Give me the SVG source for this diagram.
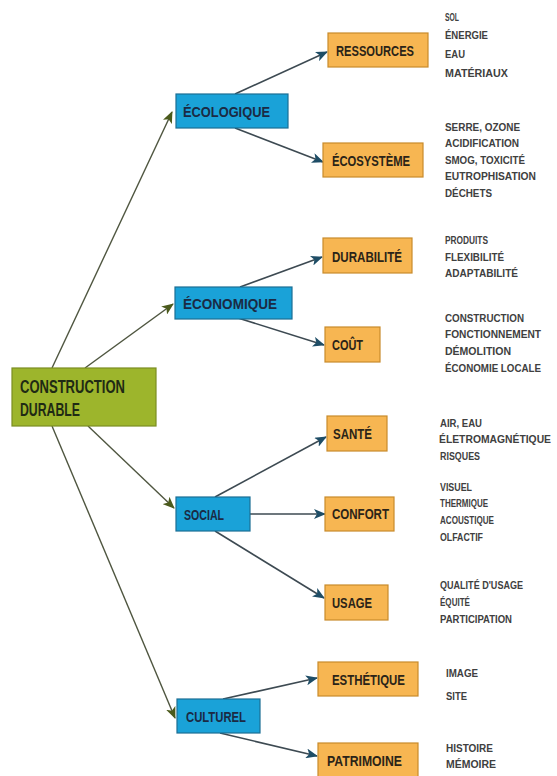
<svg xmlns="http://www.w3.org/2000/svg" width="557" height="776" viewBox="0 0 557 776">
<style>
.bg{fill:#ffffff}
.root{fill:#9db52c;stroke:#7b8e22;stroke-width:1.2}
.blue{fill:#1aa2d8;stroke:#1b6e94;stroke-width:1.2}
.orange{fill:#f7b652;stroke:#c88b2c;stroke-width:1.2}
.lbl{font-family:"Liberation Sans",Arial,sans-serif;font-weight:bold;font-size:15px}
.rootlbl{font-family:"Liberation Sans",Arial,sans-serif;font-weight:bold;font-size:18px;fill:#1f2a14}
.blbl{fill:#1b2a44}
.olbl{fill:#2b2418}
.list{font-family:"Liberation Sans",Arial,sans-serif;font-weight:bold;font-size:11px;fill:#404040}
.c1{stroke:#4f5640;stroke-width:1.4;fill:none;marker-end:url(#ah1)}
.c2{stroke:#3d4a52;stroke-width:1.6;fill:none;marker-end:url(#ah2)}
</style>
<defs>
<marker id="ah1" markerWidth="12" markerHeight="10" refX="11" refY="5" orient="auto" markerUnits="userSpaceOnUse">
<path d="M0,0 L12,5 L0,10 L3,5 Z" fill="#4b5a1c"/>
</marker>
<marker id="ah2" markerWidth="12" markerHeight="10" refX="11" refY="5" orient="auto" markerUnits="userSpaceOnUse">
<path d="M0,0 L12,5 L0,10 L3,5 Z" fill="#1e4d66"/>
</marker>
</defs>
<rect class="bg" x="0" y="0" width="557" height="776"/>
<g id="connectors">
<line class="c1" x1="52" y1="368" x2="172" y2="112"/>
<line class="c1" x1="85" y1="368" x2="173" y2="304"/>
<line class="c1" x1="88" y1="426" x2="174" y2="508"/>
<line class="c1" x1="52" y1="426" x2="175" y2="718"/>
<line class="c2" x1="235" y1="94" x2="327" y2="52"/>
<line class="c2" x1="235" y1="128" x2="323" y2="162"/>
<line class="c2" x1="240" y1="287" x2="322" y2="257"/>
<line class="c2" x1="238" y1="318" x2="324" y2="345"/>
<line class="c2" x1="215" y1="497" x2="326" y2="437"/>
<line class="c2" x1="250" y1="514" x2="325" y2="514"/>
<line class="c2" x1="215" y1="531" x2="324" y2="598"/>
<line class="c2" x1="223" y1="699" x2="317" y2="678"/>
<line class="c2" x1="220" y1="733" x2="317" y2="756"/>
</g>
<g id="construction">
<rect class="root" x="12" y="368" width="144" height="58"/>
<text class="rootlbl" x="20" y="393" textLength="105" lengthAdjust="spacingAndGlyphs">CONSTRUCTION</text>
<text class="rootlbl" x="20" y="416" textLength="60" lengthAdjust="spacingAndGlyphs">DURABLE</text>
</g>
<g id="ecologique">
<rect class="blue" x="176" y="94" width="112" height="34"/>
<text class="lbl blbl" x="183" y="117" textLength="87" lengthAdjust="spacingAndGlyphs">ÉCOLOGIQUE</text>
</g>
<g id="economique">
<rect class="blue" x="175" y="287" width="117" height="32"/>
<text class="lbl blbl" x="183" y="309" textLength="94" lengthAdjust="spacingAndGlyphs">ÉCONOMIQUE</text>
</g>
<g id="social">
<rect class="blue" x="176" y="497" width="74" height="34"/>
<text class="lbl blbl" x="184" y="520" textLength="40" lengthAdjust="spacingAndGlyphs">SOCIAL</text>
</g>
<g id="culturel">
<rect class="blue" x="177" y="699" width="83" height="34"/>
<text class="lbl blbl" x="186" y="722" textLength="60" lengthAdjust="spacingAndGlyphs">CULTUREL</text>
</g>
<g id="ressources">
<rect class="orange" x="328" y="33" width="100" height="34"/>
<text class="lbl olbl" x="336" y="56" textLength="78" lengthAdjust="spacingAndGlyphs">RESSOURCES</text>
<text class="list" x="445" y="21" textLength="14" lengthAdjust="spacingAndGlyphs">SOL</text>
<text class="list" x="445" y="39" textLength="43" lengthAdjust="spacingAndGlyphs">ÉNERGIE</text>
<text class="list" x="445" y="58" textLength="20" lengthAdjust="spacingAndGlyphs">EAU</text>
<text class="list" x="445" y="77" textLength="63" lengthAdjust="spacingAndGlyphs">MATÉRIAUX</text>
</g>
<g id="ecosysteme">
<rect class="orange" x="323" y="143" width="100" height="34"/>
<text class="lbl olbl" x="332" y="166" textLength="78" lengthAdjust="spacingAndGlyphs">ÉCOSYSTÈME</text>
<text class="list" x="445" y="131" textLength="75" lengthAdjust="spacingAndGlyphs">SERRE, OZONE</text>
<text class="list" x="445" y="147" textLength="74" lengthAdjust="spacingAndGlyphs">ACIDIFICATION</text>
<text class="list" x="445" y="164" textLength="80" lengthAdjust="spacingAndGlyphs">SMOG, TOXICITÉ</text>
<text class="list" x="445" y="180" textLength="91" lengthAdjust="spacingAndGlyphs">EUTROPHISATION</text>
<text class="list" x="445" y="197" textLength="47" lengthAdjust="spacingAndGlyphs">DÉCHETS</text>
</g>
<g id="durabilite">
<rect class="orange" x="323" y="238" width="89" height="35"/>
<text class="lbl olbl" x="332" y="262" textLength="70" lengthAdjust="spacingAndGlyphs">DURABILITÉ</text>
<text class="list" x="445" y="244" textLength="43" lengthAdjust="spacingAndGlyphs">PRODUITS</text>
<text class="list" x="445" y="261" textLength="59" lengthAdjust="spacingAndGlyphs">FLEXIBILITÉ</text>
<text class="list" x="445" y="277" textLength="73" lengthAdjust="spacingAndGlyphs">ADAPTABILITÉ</text>
</g>
<g id="cout">
<rect class="orange" x="325" y="327" width="55" height="35"/>
<text class="lbl olbl" x="332" y="350" textLength="31" lengthAdjust="spacingAndGlyphs">COÛT</text>
<text class="list" x="445" y="322" textLength="79" lengthAdjust="spacingAndGlyphs">CONSTRUCTION</text>
<text class="list" x="445" y="338" textLength="96" lengthAdjust="spacingAndGlyphs">FONCTIONNEMENT</text>
<text class="list" x="445" y="355" textLength="66" lengthAdjust="spacingAndGlyphs">DÉMOLITION</text>
<text class="list" x="445" y="372" textLength="96" lengthAdjust="spacingAndGlyphs">ÉCONOMIE LOCALE</text>
</g>
<g id="sante">
<rect class="orange" x="327" y="416" width="60" height="35"/>
<text class="lbl olbl" x="333" y="439" textLength="39" lengthAdjust="spacingAndGlyphs">SANTÉ</text>
<text class="list" x="440" y="427" textLength="42" lengthAdjust="spacingAndGlyphs">AIR, EAU</text>
<text class="list" x="439" y="443" style="font-size:10px" textLength="112" lengthAdjust="spacingAndGlyphs">ÉLETROMAGNÉTIQUE</text>
<text class="list" x="440" y="460" textLength="40" lengthAdjust="spacingAndGlyphs">RISQUES</text>
</g>
<g id="confort">
<rect class="orange" x="325" y="497" width="69" height="34"/>
<text class="lbl olbl" x="332" y="519" textLength="57" lengthAdjust="spacingAndGlyphs">CONFORT</text>
<text class="list" x="440" y="491" textLength="32" lengthAdjust="spacingAndGlyphs">VISUEL</text>
<text class="list" x="440" y="507" textLength="48" lengthAdjust="spacingAndGlyphs">THERMIQUE</text>
<text class="list" x="440" y="524" textLength="54" lengthAdjust="spacingAndGlyphs">ACOUSTIQUE</text>
<text class="list" x="440" y="541" textLength="43" lengthAdjust="spacingAndGlyphs">OLFACTIF</text>
</g>
<g id="usage">
<rect class="orange" x="325" y="585" width="63" height="35"/>
<text class="lbl olbl" x="332" y="608" textLength="40" lengthAdjust="spacingAndGlyphs">USAGE</text>
<text class="list" x="440" y="589" textLength="83" lengthAdjust="spacingAndGlyphs">QUALITÉ D'USAGE</text>
<text class="list" x="440" y="606" textLength="30" lengthAdjust="spacingAndGlyphs">ÉQUITÉ</text>
<text class="list" x="440" y="623" textLength="72" lengthAdjust="spacingAndGlyphs">PARTICIPATION</text>
</g>
<g id="esthetique">
<rect class="orange" x="318" y="662" width="100" height="34"/>
<text class="lbl olbl" x="332" y="685" textLength="73" lengthAdjust="spacingAndGlyphs">ESTHÉTIQUE</text>
<text class="list" x="446" y="677" textLength="32" lengthAdjust="spacingAndGlyphs">IMAGE</text>
<text class="list" x="446" y="700" textLength="21" lengthAdjust="spacingAndGlyphs">SITE</text>
</g>
<g id="patrimoine">
<rect class="orange" x="318" y="743" width="100" height="34"/>
<text class="lbl olbl" x="327" y="766" textLength="75" lengthAdjust="spacingAndGlyphs">PATRIMOINE</text>
<text class="list" x="446" y="752" textLength="47" lengthAdjust="spacingAndGlyphs">HISTOIRE</text>
<text class="list" x="446" y="768" textLength="50" lengthAdjust="spacingAndGlyphs">MÉMOIRE</text>
<text class="list" x="446" y="784" textLength="50" lengthAdjust="spacingAndGlyphs">CULTURE</text>
</g>
</svg>
